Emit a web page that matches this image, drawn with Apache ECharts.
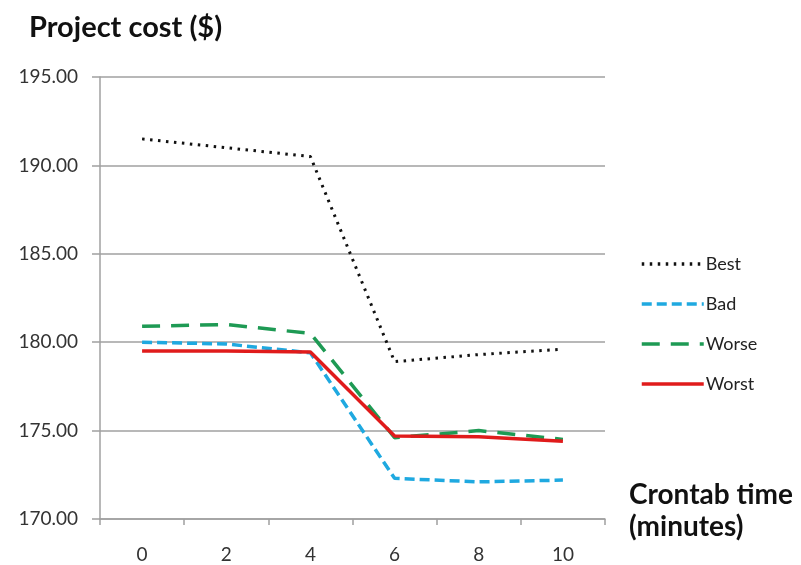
<!DOCTYPE html>
<html>
<head>
<meta charset="utf-8">
<script src="https://cdn.jsdelivr.net/npm/echarts@6/dist/echarts.min.js"></script>
<style>
  html, body { margin: 0; padding: 0; background: #fff; }
  #chart { width: 801px; height: 565px; }
</style>
</head>
<body>
<div id="chart"></div>
<script>
// Crontab interval (minutes) on the x axis
const crontabMinutes = ['0', '2', '4', '6', '8', '10'];

// Project cost ($) for each scenario
const best  = [191.5, 191.0, 190.5, 178.9, 179.3, 179.6];
const bad   = [180.0, 179.9, 179.4, 172.3, 172.1, 172.2];
const worse = [180.9, 181.0, 180.5, 174.6, 175.0, 174.5];
const worst = [179.5, 179.5, 179.45, 174.7, 174.65, 174.4];

const yTicks = { min: 170, max: 195, step: 5 };

const FONT = 'Lato, "Open Sans", sans-serif';

function lineSeries(name, data, color, width, dash) {
  return {
    name: name,
    type: 'line',
    data: data,
    symbol: 'none',
    smooth: false,
    z: 3,
    lineStyle: { color: color, width: width, type: dash, cap: 'butt' },
    itemStyle: { color: color }
  };
}

const chart = echarts.init(document.getElementById('chart'), null, { renderer: 'canvas' });

chart.setOption({
  backgroundColor: '#ffffff',
  animation: false,
  title: [
    {
      text: 'Project cost ($)',
      left: 24, top: 8,
      textStyle: { fontFamily: FONT, fontWeight: 'bold', fontSize: 29, color: '#111' }
    },
    {
      text: 'Crontab time\n(minutes)',
      left: 624, top: 474,
      textStyle: { fontFamily: FONT, fontWeight: 'bold', fontSize: 28, color: '#111', lineHeight: 32 }
    }
  ],
  legend: {
    orient: 'vertical',
    left: 635, top: 250,
    itemWidth: 62,
    itemHeight: 4,
    itemGap: 22,
    itemStyle: { opacity: 0 },
    lineStyle: { width: 3.5 },
    textStyle: { fontFamily: FONT, fontSize: 18, color: '#222', padding: [0, 0, 0, -3] },
    data: ['Best', 'Bad', 'Worse', 'Worst']
  },
  grid: { left: 100, right: 196, top: 77, bottom: 46, containLabel: false },
  xAxis: {
    type: 'category',
    data: crontabMinutes,
    boundaryGap: true,
    axisLine: { lineStyle: { color: '#a0a0a0', width: 1.5 } },
    axisTick: { show: true, length: 6, lineStyle: { color: '#a0a0a0', width: 1.5 } },
    axisLabel: { fontFamily: FONT, fontSize: 19, color: '#333', margin: 26 },
    splitLine: { show: false }
  },
  yAxis: {
    type: 'value',
    min: yTicks.min, max: yTicks.max, interval: yTicks.step,
    axisLine: { show: true, lineStyle: { color: '#a0a0a0', width: 1.5 } },
    axisTick: { show: true, length: 8, lineStyle: { color: '#a0a0a0', width: 1.5 } },
    axisLabel: {
      fontFamily: FONT, fontSize: 19, color: '#333', margin: 22,
      formatter: v => v.toFixed(2)
    },
    splitLine: { show: true, lineStyle: { color: '#a0a0a0', width: 1.5 } }
  },
  series: [
    lineSeries('Best',  best,  '#111111', 3, [2.5, 5.5]),
    lineSeries('Bad',   bad,   '#1fa9e0', 3.5, [10, 5]),
    lineSeries('Worse', worse, '#1e9a54', 3.5, [18, 11]),
    lineSeries('Worst', worst, '#e01b1b', 3.5, 'solid')
  ]
});
</script>
</body>
</html>
